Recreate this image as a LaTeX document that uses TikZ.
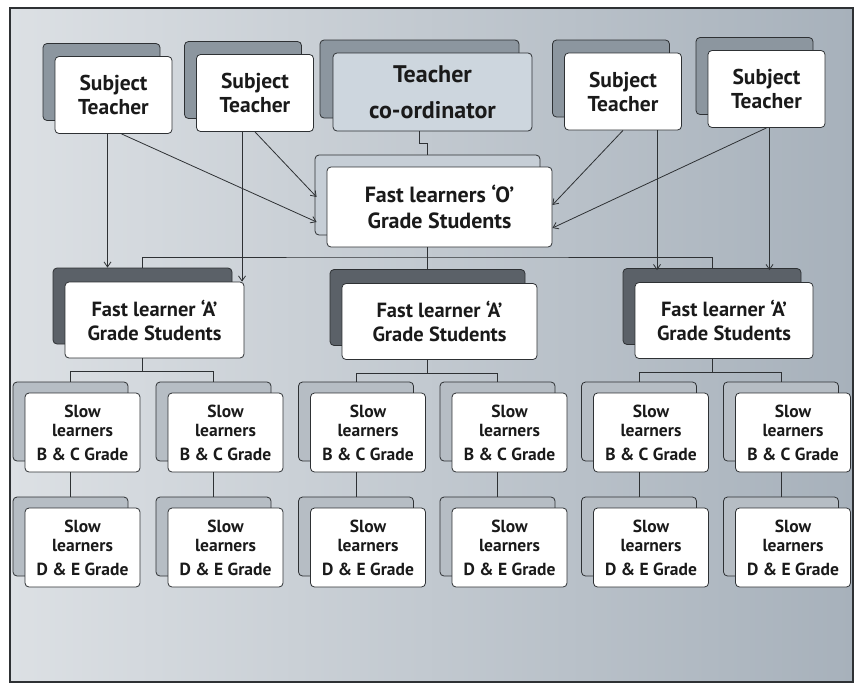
\documentclass[tikz,border=0pt]{standalone}
\usepackage{fontspec}
\setmainfont{PT Sans}
\usetikzlibrary{shadows,arrows.meta}
\definecolor{edge}{HTML}{2E3134}
\definecolor{ink}{HTML}{1A1A1A}
\definecolor{bgA}{HTML}{DCE0E4}
\definecolor{bgB}{HTML}{A7B1BB}
\definecolor{stshade}{HTML}{8C969F}
\definecolor{tcfront}{HTML}{CDD6DE}
\definecolor{oshade}{HTML}{C6CED6}
\definecolor{ashade}{HTML}{5B6168}
\definecolor{slshade}{HTML}{B6BDC4}
\begin{document}
\begin{tikzpicture}[x=1pt,y=-1pt,>={Straight Barb[length=5pt,width=7pt]},line width=0.8pt,
  box/.style={draw=edge,fill=white,rounded corners=4pt,align=center,inner sep=0pt,text=ink},
  subj/.style={box,minimum width=117pt,minimum height=77pt,font=\fontsize{21.5}{24}\selectfont\bfseries,
    copy shadow={shadow xshift=-12pt,shadow yshift=13pt,fill=stshade,draw=edge}},
  coord/.style={box,fill=tcfront,minimum width=199pt,minimum height=78pt,font=\fontsize{24}{36}\selectfont\bfseries,
    copy shadow={shadow xshift=-13pt,shadow yshift=13pt,fill=stshade,draw=edge}},
  olearn/.style={box,minimum width=225pt,minimum height=80pt,font=\fontsize{22}{26}\selectfont\bfseries,
    copy shadow={shadow xshift=-12pt,shadow yshift=12pt,fill=oshade,draw=edge}},
  alearn/.style={box,minimum height=76pt,font=\fontsize{20.5}{24}\selectfont\bfseries,
    copy shadow={shadow xshift=-12pt,shadow yshift=14pt,fill=ashade,draw=edge}},
  slow/.style={box,minimum width=115pt,minimum height=79pt,font=\fontsize{17.5}{19}\selectfont\bfseries,
    copy shadow={shadow xshift=-12pt,shadow yshift=11pt,fill=slshade,draw=edge}}]
  \useasboundingbox (0,0) rectangle (854,683);
  \shade[left color=bgA,right color=bgB] (10,8) rectangle (853,682);
  \draw[line width=1.2pt,edge] (10,8) rectangle (853,682);
  % top row
  \node[subj] (st1) at (113.5,95) {Subject\\Teacher};
  \node[subj] (st2) at (255,93) {Subject\\Teacher};
  \node[coord] (tc) at (432.5,92) {Teacher\\co-ordinator};
  \node[subj] (st3) at (623,91.5) {Subject\\Teacher};
  \node[subj] (st4) at (766.5,89) {Subject\\Teacher};
  % fast learners
  \node[olearn] (o) at (439.5,207) {Fast learners ‘O’\\Grade Students};
  \node[alearn,minimum width=179pt] (a1) at (154.5,320) {Fast learner ‘A’\\Grade Students};
  \node[alearn,minimum width=195pt] (a2) at (439.5,321.5) {Fast learner ‘A’\\Grade Students};
  \node[alearn,minimum width=178pt] (a3) at (724,320.5) {Fast learner ‘A’\\Grade Students};
  % slow learners
  \foreach \x [count=\i] in {82.5,225.5,368,509.5,651,793} {
    \node[slow] (bc\i) at (\x,432.5) {Slow\\learners\\[5pt]B \& C Grade};
    \node[slow] (de\i) at (\x,547.5) {Slow\\learners\\[5pt]D \& E Grade};
    \draw[edge] ([xshift=-12pt]bc\i.south) -- ([shift={(-12pt,11pt)}]de\i.north);
  }
  % tree lines
  \draw[edge] ([xshift=-13pt]tc.south) -- ++(0,12) -| ([shift={(-12pt,12pt)}]o.north);
  \coordinate (obar) at (427.5,257);
  \draw[edge] ([xshift=-12pt]o.south) -- (obar);
  \draw[edge] ([shift={(-12pt,14pt)}]a1.north) |- (obar) -| ([shift={(-12pt,14pt)}]a3.north);
  \draw[edge] (obar) -- ([shift={(-12pt,14pt)}]a2.north);
  \foreach \a/\l/\r [count=\i] in {a1/bc1/bc2,a2/bc3/bc4,a3/bc5/bc6} {
    \coordinate (abar\i) at ([yshift=-13pt,xshift=-12pt]\a.south);
    \draw[edge] ([xshift=-12pt]\a.south) -- (abar\i);
    \draw[edge] ([shift={(-12pt,11pt)}]\l.north) |- (abar\i) -| ([shift={(-12pt,11pt)}]\r.north);
  }
  % subject teacher arrows
  \draw[->,edge] ([xshift=-6pt]st1.south) -- ([xshift=-6pt,yshift=14pt]st1.south |- a1.north);
  \draw[->,edge] ([xshift=8pt]st1.south) -- ([shift={(-10pt,-15pt)}]o.west);
  \draw[->,edge] (st2.south) -- ([shift={(-10pt,10pt)}]o.west);
  \draw[->,edge] ([xshift=-13pt]st2.south) -- ([xshift=-13pt]st2.south |- a1.north);
  \draw[->,edge] (st3.south) -- ([yshift=2pt]o.east);
  \draw[->,edge] ([xshift=34pt]st3.south) -- ([xshift=34pt,yshift=12pt]st3.south |- a3.north);
  \draw[->,edge] (st4.south) -- ([yshift=-21pt]o.east);
  \draw[->,edge] ([xshift=3pt]st4.south) -- ([xshift=3pt,yshift=12pt]st4.south |- a3.north);
\end{tikzpicture}
\end{document}
